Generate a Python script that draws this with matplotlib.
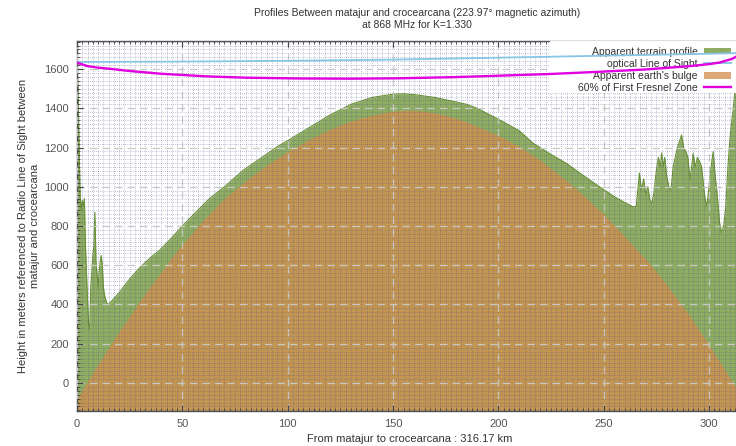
import matplotlib
matplotlib.use("Agg")
import matplotlib.pyplot as plt
from matplotlib.ticker import MultipleLocator
from matplotlib.patches import Patch, Rectangle
from matplotlib.lines import Line2D

plt.rcParams['font.family'] = ['Liberation Sans', 'DejaVu Sans']

# ---- data ----
terrain_km = [0, 0.5, 1.0, 1.5, 2.0, 2.5, 3.0, 3.5, 4.0, 4.5, 5.0, 5.5, 6.0, 6.5, 7.0, 7.5,
              8.0, 8.5, 9.0, 9.5, 10.0, 10.5, 11.0, 11.5, 12.0, 12.5, 13.0, 14.0, 15.0,
              20, 25, 30, 35, 39.4, 45, 50, 55, 63, 70, 79, 90, 95, 100, 110, 120, 130, 140,
              150, 155, 160, 170, 180, 185, 190, 200.8, 210, 216.5, 225, 232.4, 240, 248,
              255, 260, 264, 265.5, 266, 267, 268, 269, 270, 271, 272, 273, 274, 275, 276,
              277, 277.5, 278.5, 279, 280, 281, 282, 283, 284, 285, 286, 287, 288, 289, 290,
              291, 292, 292.5, 293.5, 294.5, 295.5, 296.5, 297.5, 298, 299, 300, 301, 302,
              303, 304, 305, 306, 307, 308, 309, 310, 311, 311.5, 312, 312.6, 313.5, 316.17]
terrain_m = [1620, 1500, 1200, 950, 880, 930, 900, 940, 700, 560, 420, 300, 270, 480, 560, 650,
             700, 870, 620, 560, 490, 560, 620, 650, 600, 490, 450, 410, 400,
             460, 530, 590, 640, 678, 740, 800, 855, 941, 1000, 1085, 1166, 1204, 1235, 1300,
             1365, 1420, 1455, 1472, 1474, 1470, 1455, 1432, 1420, 1400, 1340, 1285, 1222,
             1165, 1119, 1060, 1000, 950, 920, 898, 900, 960, 1070, 980, 1040, 960, 1000,
             930, 917, 980, 1080, 1150, 1100, 1172, 1100, 1150, 1050, 1000, 983, 1100, 1150,
             1200, 1230, 1264, 1200, 1180, 1150, 1036, 1120, 1170, 1100, 1150, 1130, 1102,
             1000, 950, 898, 1000, 1100, 1179, 1050, 950, 820, 764, 800, 900, 1100, 1250,
             1350, 1391, 1450, 1500, 1560, 1660]

bulge_km = [0, 10, 20, 30, 40, 47.5, 60, 70, 80, 90, 100, 110, 120, 130, 140, 150, 157,
            165, 175, 185, 200, 210, 220, 232.4, 240, 250, 264, 270, 280, 290, 300, 310, 316.17]
bulge_m = [-80, 95, 262, 420, 566, 675, 830, 940, 1030, 1110, 1180, 1240, 1292, 1335, 1365,
           1385, 1390, 1385, 1365, 1330, 1262, 1205, 1135, 1030, 960, 860, 700, 630, 500,
           355, 195, 25, -80]

los_km = [0, 50, 100, 150, 200, 250, 300, 316.17]
los_m = [1636, 1638, 1642, 1648, 1658, 1668, 1678, 1682]

fresnel_km = [0, 5, 10, 15, 25, 40, 63, 80, 106, 130, 153, 180, 200, 225, 248, 270, 291,
              300, 305, 311, 316.17]
fresnel_m = [1632, 1615, 1607, 1602, 1590, 1576, 1562, 1556, 1552, 1551, 1553, 1559, 1566,
             1575, 1586, 1598, 1615, 1625, 1633, 1652, 1682]

x_ticks = [0, 50, 100, 150, 200, 250, 300]
y_ticks = [0, 200, 400, 600, 800, 1000, 1200, 1400, 1600]

title = "Profiles Between matajur and crocearcana (223.97\u00b0 magnetic azimuth)\nat 868 MHz for K=1.330"
xlabel = "From matajur to crocearcana : 316.17 km"
ylabel = "Height in meters referenced to Radio Line of Sight between\nmatajur and crocearcana"
labels = ['Apparent terrain profile', 'optical Line of Sight',
          "Apparent earth's bulge", '60% of First Fresnel Zone']

# ---- figure ----
W, H = 736, 446
fig = plt.figure(figsize=(W / 100, H / 100), dpi=100)
ax = fig.add_axes([77 / W, 1 - 411 / H, 666 / W, 370 / H])

ymin, ymax = -143, 1743
green = '#8EAD62'
brown = '#C39552'
los_c = '#87C6E4'
fres_c = '#E000E0'

ax.fill_between(terrain_km, terrain_m, ymin, color=green, lw=0, zorder=1)
ax.plot(terrain_km, terrain_m, color='#6B9433', lw=0.8, zorder=1.2)
ax.fill_between(bulge_km, bulge_m, ymin, color=brown, lw=0, zorder=1.3)

ax.plot(los_km, los_m, color=los_c, lw=1.3, zorder=4)
ax.plot(fresnel_km, fresnel_m, color=fres_c, lw=1.7, zorder=4.1)

ax.set_xlim(0, 316.17)
ax.set_ylim(ymin, ymax)
ax.set_xticks(x_ticks)
ax.set_yticks(y_ticks)
ax.xaxis.set_minor_locator(MultipleLocator(2.5))
ax.yaxis.set_minor_locator(MultipleLocator(20))

ax.set_axisbelow(False)
ax.grid(which='minor', color='#4A4A8C', linestyle=(0, (1, 2)), linewidth=0.5, alpha=0.65)
ax.grid(which='major', color='#C8C8C8', linestyle=(0, (6, 4)), linewidth=0.9)

ax.tick_params(which='both', direction='in', top=True, right=True, colors='#444444',
               labelsize=8, labelcolor='#555555')
ax.tick_params(which='major', length=4, pad=6)
ax.tick_params(which='minor', length=2)
for s in ax.spines.values():
    s.set_color('#555555')
    s.set_linewidth(1.0)

ax.set_xlabel(xlabel, fontsize=8, color='#333333', labelpad=3)
ax.set_ylabel(ylabel, fontsize=8, color='#333333', labelpad=3)
fig.text(417 / W, 1 - 19 / H, title, ha='center', va='center', fontsize=7.5,
         color='#333333', linespacing=1.25)

# white legend background box
bx0 = (550 - 77) / 666
by0 = (411 - 93) / 370
ax.add_patch(Rectangle((bx0, by0), 1 - bx0, 1 - by0, transform=ax.transAxes,
                       facecolor='white', edgecolor='none', zorder=2.6))

handles = [Patch(facecolor=green, edgecolor='none'),
           Line2D([], [], color=los_c, lw=1.3),
           Patch(facecolor='#DCA877', edgecolor='none'),
           Line2D([], [], color=fres_c, lw=1.7)]
leg = ax.legend(handles, labels, loc='upper right', bbox_to_anchor=(1.0, 1.0),
                markerfirst=False, fontsize=7.5, frameon=False,
                handlelength=2.6, handleheight=0.6, labelspacing=0.2,
                borderpad=0.45, borderaxespad=0.1, handletextpad=0.6)
for t in leg.get_texts():
    t.set_color('#333333')
leg.set_zorder(2.7)
# shift legend left so swatches end near x=732 px
leg.set_bbox_to_anchor((1.0 - 6 / 666, 1.0), transform=ax.transAxes)

fig.savefig('out.png', dpi=100)
